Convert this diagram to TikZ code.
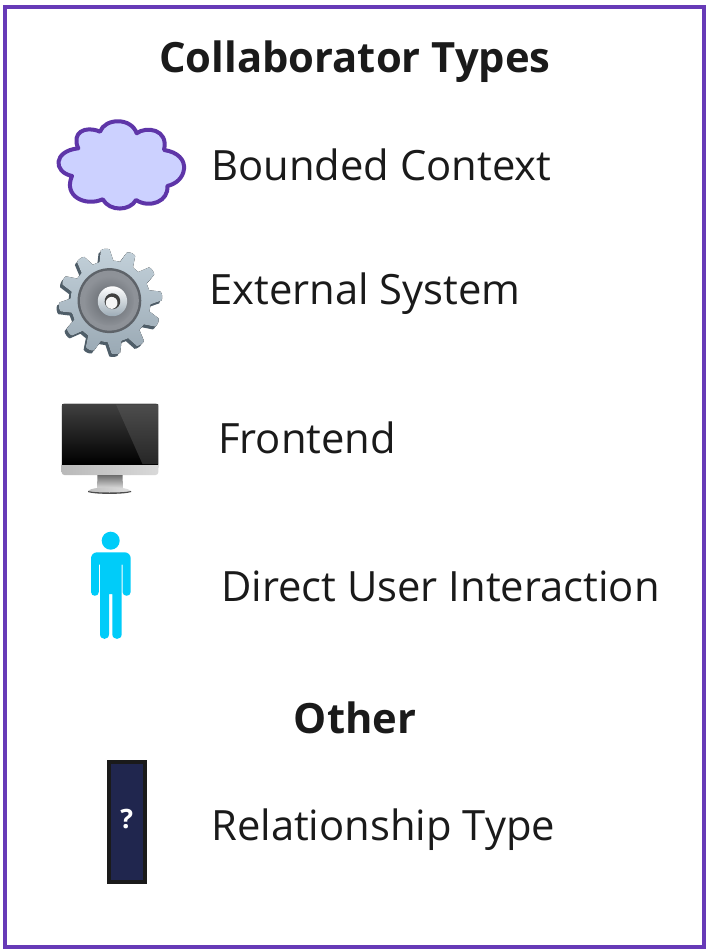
\documentclass[tikz,border=0pt]{standalone}
\usepackage{fontspec}
\setmainfont{Open Sans}
\usetikzlibrary{calc}
\definecolor{framepurple}{HTML}{673AB7}
\definecolor{cloudfill}{HTML}{CCD1FF}
\definecolor{cloudline}{HTML}{5E35A8}
\definecolor{ink}{HTML}{1A1A1A}
\definecolor{person}{HTML}{00CCF9}
\definecolor{relfill}{HTML}{20264E}
\definecolor{gearface}{HTML}{C3D1DA}
\definecolor{gearlow}{HTML}{9AA9B4}
\definecolor{gearside}{HTML}{4F5E69}
\definecolor{ringdark}{HTML}{5E6369}
\definecolor{ringmid}{HTML}{8E9298}
\tikzset{
  label text/.style={anchor=base west,inner sep=0pt,text=ink,font=\fontsize{31.3}{38}\selectfont},
  head text/.style={anchor=base,inner sep=0pt,text=ink,font=\fontsize{31.3}{38}\selectfont\bfseries},
}
\newcommand{\gearpath}{(-10:41) \foreach \a in {0,30,...,330} { -- (\a-10:41) -- (\a-5:52) .. controls (\a-3:53.5) and (\a+3:53.5) .. (\a+5:52) -- (\a+10:41) -- (\a+20:41)} -- cycle}
\begin{document}
\begin{tikzpicture}[x=0.75pt,y=-0.75pt]
\useasboundingbox (0,0) rectangle (710,952);
\fill[white] (0,0) rectangle (710,952);
\draw[framepurple,line width=3pt] (5,7.5) rectangle (703.5,946.5);
% cloud
\draw[cloudline,fill=cloudfill,line width=3pt,line join=round]
 (100,131.7) .. controls (105,118) and (131,117) .. (136.7,133.3)
 .. controls (146,126) and (169,129) .. (164,150)
 .. controls (178,152) and (185,160) .. (184,169)
 .. controls (183,178) and (176,184) .. (167.3,186)
 .. controls (169,201) and (150,209) .. (136,200)
 .. controls (130,211) and (110,212) .. (102.7,199.3)
 .. controls (85,207) and (63,196) .. (72,176)
 .. controls (53,172) and (53,151) .. (78.3,148.3)
 .. controls (71,133) and (85,125) .. (100,131.7) -- cycle;
% gear
\begin{scope}[shift={(110.5,301.5)},xscale=0.98,rotate=6]
 \fill[gearside,shift={(-2.5,2.5)}] \gearpath;
 \fill[top color=gearface,bottom color=gearlow] \gearpath;
 \fill[ringdark] (-1,-1) circle (32.5);
 \fill[ringmid] (-1,-1) circle (30);
 \shade[inner color=ringdark,outer color=ringmid] (-1,-1) circle (25);
 \shade[top color=white,bottom color=gearlow] (2,0) circle (15);
 \fill[gray!50!black] (2,0) circle (8);
 \fill[white!92!gray] (1,1.5) circle (6);
\end{scope}
% monitor
\fill[rounded corners=2pt,gray!70] (61.7,403.3) rectangle (158.3,470);
\shade[left color=gray!55,right color=gray!30,rounded corners=2pt] (61.7,462) rectangle (158.3,475);
\shade[top color=gray!85!black,bottom color=gray!30] (97.5,475) -- (122.5,475) -- (123,488) -- (97,488) -- cycle;
\shade[left color=gray!50,right color=gray!25] (88,491) .. controls (92,486) and (127,486) .. (131,491) -- (131,492) .. controls (125,494) and (94,494) .. (88,492) -- cycle;
\fill[gray!60!black] (88,492) .. controls (94,494.5) and (125,494.5) .. (131,492) -- (131,491) .. controls (125,493) and (94,493) .. (88,491) -- cycle;
\shade[top color=black!75,bottom color=black] (62,404.5) rectangle (158,464);
\shade[top color=black!70,bottom color=black!85] (116,404.5) -- (158,404.5) -- (158,464) -- (142.5,464) -- cycle;
% person
\fill[person] (110.7,540.7) circle (9);
\fill[person]
 (97,552.3) -- (124.7,552.3) .. controls (128,552.3) and (130.7,555) .. (130.7,558.5)
 -- (130.7,592) .. controls (130.7,597) and (122.5,597) .. (122.5,592)
 -- (122.5,564.5) -- (121.7,564.5) -- (121.7,634)
 .. controls (121.7,640.5) and (112.3,640.5) .. (112.3,634) -- (112.3,594) -- (109,594) -- (109,634)
 .. controls (109,640.5) and (100,640.5) .. (100,634) -- (100,564.5) -- (98.8,564.5) -- (98.8,592)
 .. controls (98.8,597) and (91,597) .. (91,592) -- (91,558.5)
 .. controls (91,555) and (93.7,552.3) .. (97,552.3) -- cycle;
% relationship box
\draw[ink,fill=relfill,line width=3pt] (108.7,762) rectangle (145,881.5);
\node[inner sep=0pt,text=white,font=\fontsize{20}{24}\selectfont\bfseries] (q) at (126.7,819) {?};
% text
\node[head text] (title) at (355,73) {Collaborator Types};
\node[label text] (bc) at (211,180.5) {Bounded Context};
\node[label text] (es) at (209,304) {External System};
\node[label text] (fe) at (218,453) {Frontend};
\node[label text] (du) at (221,601) {Direct User Interaction};
\node[head text] (other) at (355,733) {Other};
\node[label text] (rt) at (211,840) {Relationship Type};
\end{tikzpicture}
\end{document}
